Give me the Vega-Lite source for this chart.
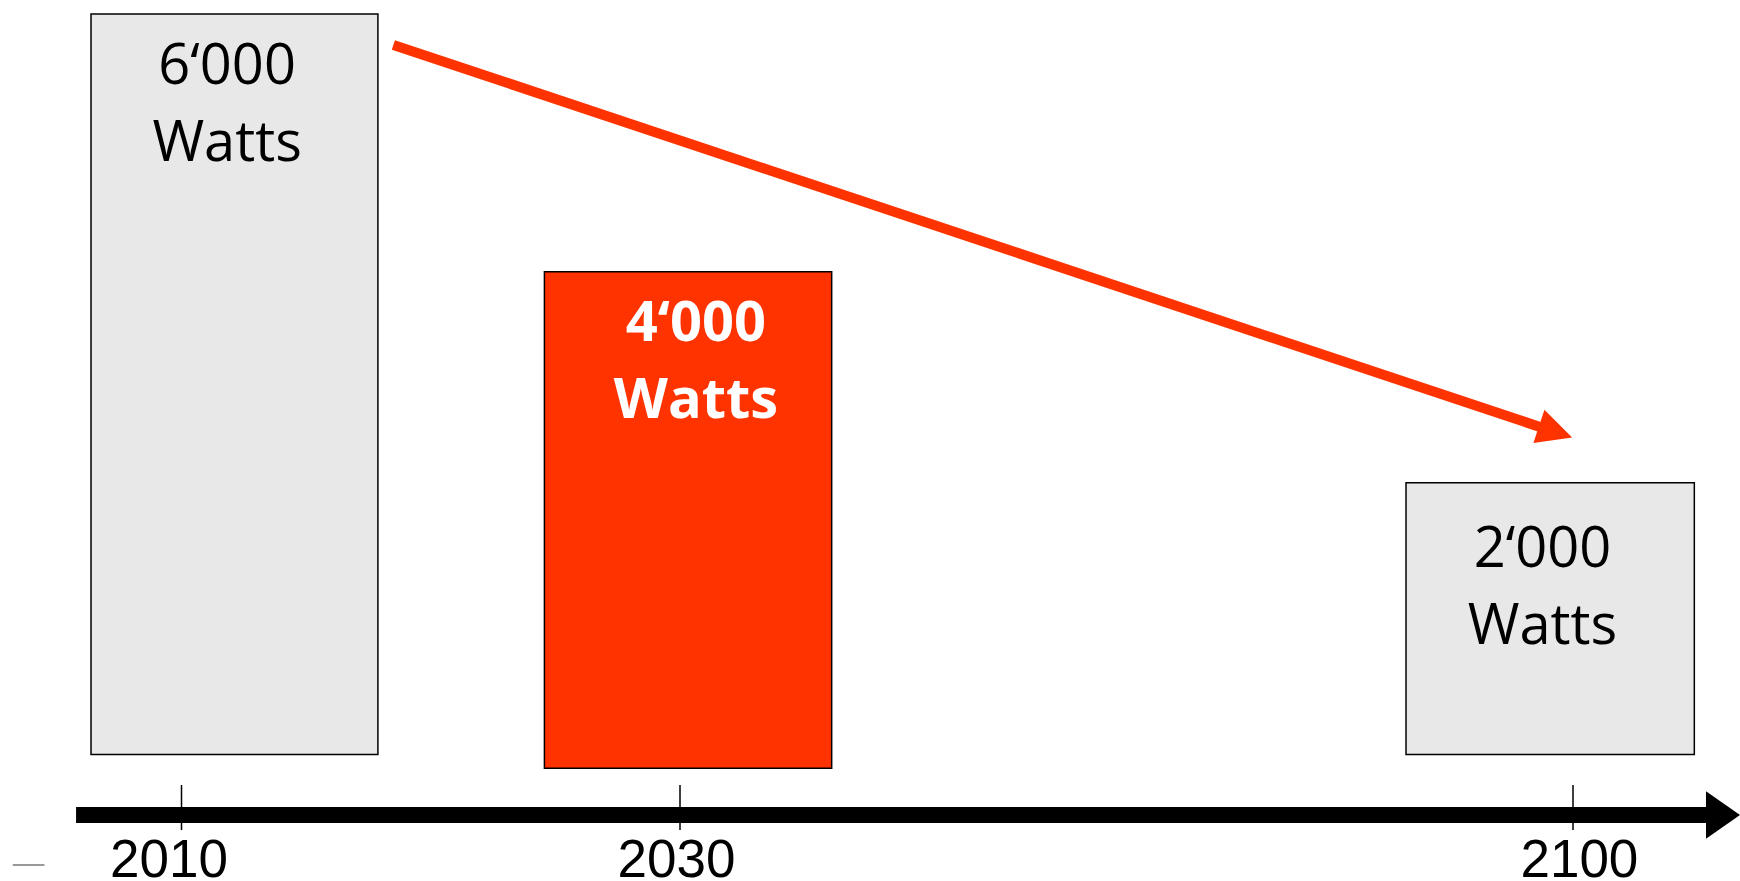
{
  "$schema": "https://vega.github.io/schema/vega-lite/v6.json",
  "width": 1740,
  "height": 881,
  "padding": 0,
  "autosize": {"type": "none"},
  "background": "white",
  "config": {"view": {"stroke": null}},
  "layer": [
    {
      "data": {"values": [
        {"year": 2010, "watts": 6000, "start": 2006.37, "end": 2017.88, "top": 6000, "base": 0, "group": "today"},
        {"year": 2030, "watts": 4000, "start": 2024.56, "end": 2041.89, "top": 3912, "base": -112, "group": "target"},
        {"year": 2100, "watts": 2000, "start": 2086.91, "end": 2109.51, "top": 2202, "base": 0, "group": "goal"}
      ]},
      "mark": {"type": "bar", "stroke": "#000000", "strokeWidth": 1.5, "opacity": 1},
      "encoding": {
        "x": {"field": "start", "type": "quantitative", "axis": null, "scale": {"type": "linear", "domain": [2010, 2030, 2100], "range": [181.5, 680, 1573], "nice": false, "zero": false}},
        "x2": {"field": "end"},
        "y": {"field": "top", "type": "quantitative", "axis": null, "scale": {"domain": [-1025, 6113], "nice": false, "zero": false}},
        "y2": {"field": "base"},
        "color": {"field": "group", "type": "nominal", "legend": null, "scale": {"domain": ["today", "target", "goal"], "range": ["#E8E8E8", "#FF3300", "#E8E8E8"]}}
      }
    },
    {
      "data": {"values": [
        {"label": "6‘000\nWatts", "labelYear": 2011.83, "labelW": 5434},
        {"label": "2‘000\nWatts", "labelYear": 2097.61, "labelW": 1522}
      ]},
      "mark": {"type": "text", "font": "Open Sans", "fontSize": 56, "lineBreak": "\n", "lineHeight": 77, "align": "center", "baseline": "alphabetic", "color": "#000000"},
      "encoding": {
        "x": {"field": "labelYear", "type": "quantitative", "axis": null, "scale": {"type": "linear", "domain": [2010, 2030, 2100], "range": [181.5, 680, 1573], "nice": false, "zero": false}},
        "y": {"field": "labelW", "type": "quantitative", "axis": null, "scale": {"domain": [-1025, 6113], "nice": false, "zero": false}},
        "text": {"field": "label", "type": "nominal"}
      }
    },
    {
      "data": {"values": [
        {"label": "4‘000\nWatts", "labelYear": 2031.25, "labelW": 3353}
      ]},
      "mark": {"type": "text", "font": "Open Sans", "fontSize": 56, "fontWeight": "bold", "lineBreak": "\n", "lineHeight": 77, "align": "center", "baseline": "alphabetic", "color": "#FFFFFF"},
      "encoding": {
        "x": {"field": "labelYear", "type": "quantitative", "axis": null, "scale": {"type": "linear", "domain": [2010, 2030, 2100], "range": [181.5, 680, 1573], "nice": false, "zero": false}},
        "y": {"field": "labelW", "type": "quantitative", "axis": null, "scale": {"domain": [-1025, 6113], "nice": false, "zero": false}},
        "text": {"field": "label", "type": "nominal"}
      }
    },
    {
      "data": {"values": [
        {"fromYear": 2018.5, "fromW": 5749, "toYear": 2097.41, "toW": 2654}
      ]},
      "mark": {"type": "rule", "color": "#FF3300", "strokeWidth": 10, "strokeCap": "butt"},
      "encoding": {
        "x": {"field": "fromYear", "type": "quantitative", "axis": null, "scale": {"type": "linear", "domain": [2010, 2030, 2100], "range": [181.5, 680, 1573], "nice": false, "zero": false}},
        "x2": {"field": "toYear"},
        "y": {"field": "fromW", "type": "quantitative", "axis": null, "scale": {"domain": [-1025, 6113], "nice": false, "zero": false}},
        "y2": {"field": "toW"}
      }
    },
    {
      "data": {"values": [
        {"headYear": 2098.63, "headW": 2613}
      ]},
      "mark": {"type": "point", "shape": "M-1,-1L1,0L-1,1Z", "size": 1225, "angle": 18.4, "filled": true, "color": "#FF3300", "opacity": 1, "strokeWidth": 0},
      "encoding": {
        "x": {"field": "headYear", "type": "quantitative", "axis": null, "scale": {"type": "linear", "domain": [2010, 2030, 2100], "range": [181.5, 680, 1573], "nice": false, "zero": false}},
        "y": {"field": "headW", "type": "quantitative", "axis": null, "scale": {"domain": [-1025, 6113], "nice": false, "zero": false}}
      }
    },
    {
      "data": {"values": [
        {"fromYear": 2005.77, "toYear": 2110.74, "level": -490}
      ]},
      "mark": {"type": "rule", "color": "#000000", "strokeWidth": 16, "strokeCap": "butt"},
      "encoding": {
        "x": {"field": "fromYear", "type": "quantitative", "axis": null, "scale": {"type": "linear", "domain": [2010, 2030, 2100], "range": [181.5, 680, 1573], "nice": false, "zero": false}},
        "x2": {"field": "toYear"},
        "y": {"field": "level", "type": "quantitative", "axis": null, "scale": {"domain": [-1025, 6113], "nice": false, "zero": false}}
      }
    },
    {
      "data": {"values": [
        {"headYear": 2111.76, "level": -490}
      ]},
      "mark": {"type": "point", "shape": "M-1,-1.4L1,0L-1,1.4Z", "size": 1156, "filled": true, "color": "#000000", "opacity": 1, "strokeWidth": 0},
      "encoding": {
        "x": {"field": "headYear", "type": "quantitative", "axis": null, "scale": {"type": "linear", "domain": [2010, 2030, 2100], "range": [181.5, 680, 1573], "nice": false, "zero": false}},
        "y": {"field": "level", "type": "quantitative", "axis": null, "scale": {"domain": [-1025, 6113], "nice": false, "zero": false}}
      }
    },
    {
      "data": {"values": [
        {"year": 2010, "tickTop": -247, "tickBottom": -612},
        {"year": 2030, "tickTop": -247, "tickBottom": -612},
        {"year": 2100, "tickTop": -247, "tickBottom": -612}
      ]},
      "mark": {"type": "rule", "color": "#000000", "strokeWidth": 1.5},
      "encoding": {
        "x": {"field": "year", "type": "quantitative", "axis": null, "scale": {"type": "linear", "domain": [2010, 2030, 2100], "range": [181.5, 680, 1573], "nice": false, "zero": false}},
        "y": {"field": "tickTop", "type": "quantitative", "axis": null, "scale": {"domain": [-1025, 6113], "nice": false, "zero": false}},
        "y2": {"field": "tickBottom"}
      }
    },
    {
      "data": {"values": [
        {"year": "2010", "labelYear": 2009.5, "labelLevel": -990},
        {"year": "2030", "labelYear": 2029.86, "labelLevel": -990},
        {"year": "2100", "labelYear": 2100.5, "labelLevel": -990}
      ]},
      "mark": {"type": "text", "font": "Liberation Sans", "fontSize": 53, "align": "center", "baseline": "alphabetic", "color": "#000000"},
      "encoding": {
        "x": {"field": "labelYear", "type": "quantitative", "axis": null, "scale": {"type": "linear", "domain": [2010, 2030, 2100], "range": [181.5, 680, 1573], "nice": false, "zero": false}},
        "y": {"field": "labelLevel", "type": "quantitative", "axis": null, "scale": {"domain": [-1025, 6113], "nice": false, "zero": false}},
        "text": {"field": "year", "type": "nominal"}
      }
    },
    {
      "data": {"values": [
        {"fromYear": 2003.23, "toYear": 2004.5, "level": -895}
      ]},
      "mark": {"type": "rule", "color": "#999999", "strokeWidth": 2},
      "encoding": {
        "x": {"field": "fromYear", "type": "quantitative", "axis": null, "scale": {"type": "linear", "domain": [2010, 2030, 2100], "range": [181.5, 680, 1573], "nice": false, "zero": false}},
        "x2": {"field": "toYear"},
        "y": {"field": "level", "type": "quantitative", "axis": null, "scale": {"domain": [-1025, 6113], "nice": false, "zero": false}}
      }
    }
  ]
}
